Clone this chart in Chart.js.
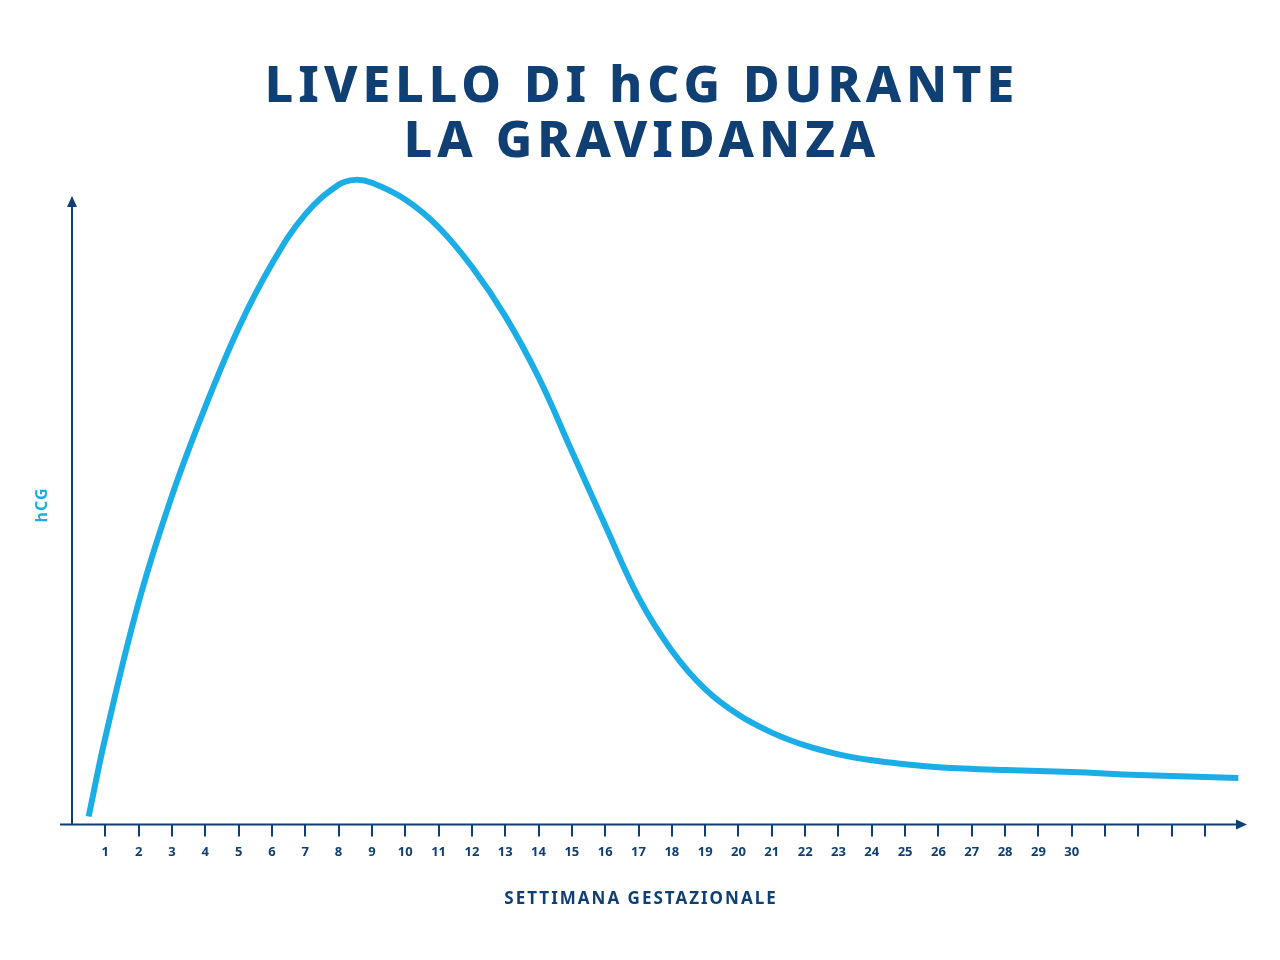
<!DOCTYPE html>
<html><head><meta charset="utf-8">
<script src="https://cdn.jsdelivr.net/npm/chart.js@4"></script>
<style>html,body{margin:0;background:#fff}#w{width:1280px;height:960px}</style>
</head><body><div id="w"><canvas id="c"></canvas></div>
<script>
const titleLines = ["LIVELLO DI hCG DURANTE", "LA GRAVIDANZA"];
const xTitle = "SETTIMANA GESTAZIONALE";
const yTitle = "hCG";
const weeks = [0.5,1,2,3,4,5,6,7,8,8.5,9,10,11,12,13,14,15,16,17,18,19,20,21,22,23,24,25,26,28,30,32,35];
const hcg =   [8,88,225,333,423,503,568,618,648,653,650,633,605,565,515,453,378,303,230,176,137,111,93,80,71,65,61,58,55,53,50,47];
const tickWeeks = [1,2,3,4,5,6,7,8,9,10,11,12,13,14,15,16,17,18,19,20,21,22,23,24,25,26,27,28,29,30,31,32,33,34];
const labelledMax = 30;
const navy = "#0f3f73", cyan = "#1bade6";
const deco = {id:"deco", afterDraw(ch){
  const c=ch.ctx,a=ch.chartArea,x0=ch.scales.x.getPixelForValue(0);
  c.save();c.strokeStyle=navy;c.fillStyle=navy;c.lineWidth=2;
  c.beginPath();c.moveTo(x0,a.bottom);c.lineTo(x0,200);c.moveTo(60,a.bottom);c.lineTo(1242,a.bottom);c.stroke();
  c.beginPath();c.moveTo(x0,196);c.lineTo(x0-5,207);c.lineTo(x0+5,207);c.fill();
  c.beginPath();c.moveTo(1247,a.bottom);c.lineTo(1236,a.bottom-5);c.lineTo(1236,a.bottom+5);c.fill();
  c.textAlign="center";c.textBaseline="middle";
  c.font="800 50px 'Noto Sans'";c.letterSpacing="5px";
  c.fillText(titleLines[0],642,88);c.fillText(titleLines[1],642,143);
  c.font="700 17px 'Noto Sans'";c.letterSpacing="2px";c.fillText(xTitle,641,899);
  c.fillStyle=cyan;c.font="700 16px 'Noto Sans'";c.letterSpacing="1px";c.translate(42,505);c.rotate(-Math.PI/2);c.fillText(yTitle,0,0);
  c.restore();}};
new Chart(document.getElementById("c"),{type:"line",
 data:{datasets:[{data:weeks.map((w,i)=>({x:w,y:hcg[i]})),borderColor:cyan,borderWidth:6,pointRadius:0,tension:0.4,fill:false}]},
 options:{responsive:true,maintainAspectRatio:false,animation:false,
  layout:{padding:{left:72,right:35,top:170,bottom:92}},
  plugins:{legend:{display:false},tooltip:{enabled:false}},
  scales:{
   y:{display:false,min:0,max:663},
   x:{type:"linear",min:0,max:35.2,
    afterBuildTicks:s=>{s.ticks=tickWeeks.map(v=>({value:v}));},
    grid:{drawOnChartArea:false,drawTicks:true,tickLength:12,color:navy,lineWidth:2},
    border:{display:false},
    ticks:{autoSkip:false,maxRotation:0,color:navy,font:{family:"'Noto Sans'",weight:"bold",size:13},padding:8,
      callback:v=>v<=labelledMax?String(v):""}}
  }},plugins:[deco]});
</script></body></html>
